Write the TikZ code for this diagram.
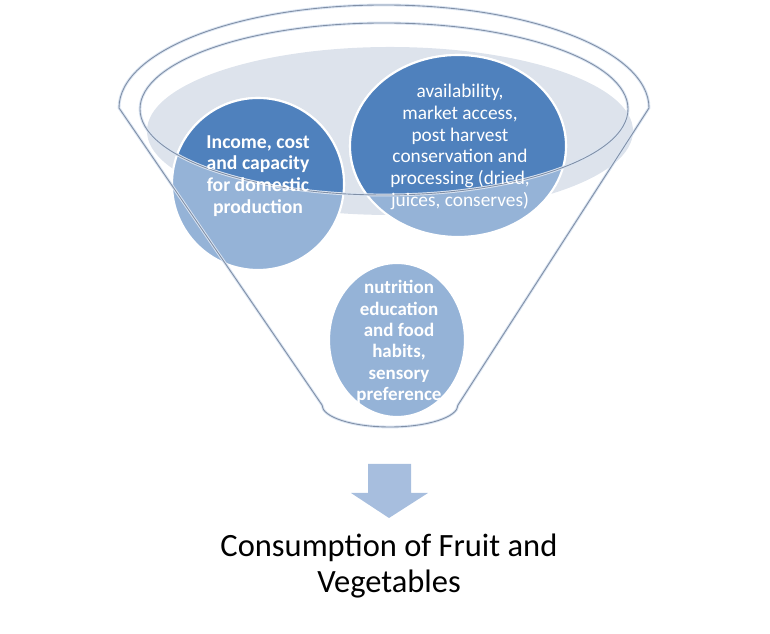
\documentclass[tikz,border=0pt]{standalone}
\usepackage{fontspec}
\setmainfont{Carlito}
\usepackage{tikz}
\usetikzlibrary{positioning}
\definecolor{darkblue}{RGB}{79,129,189}
\definecolor{lightblue}{RGB}{149,179,215}
\definecolor{rimgrey}{RGB}{128,143,166}
\definecolor{rimglow}{RGB}{218,228,242}
\definecolor{liquid}{RGB}{221,227,236}
\definecolor{arrowblue}{RGB}{167,190,222}
\tikzstyle{bubble} = [fill=lightblue, draw=white, line width=1.2pt]
\tikzstyle{rim} = [draw=rimgrey, line width=0.5pt, preaction={draw=rimglow, line width=1.6pt}]
\tikzstyle{bubbletext} = [text=white, align=center, inner sep=0pt, font={\fontsize{11pt}{12.4pt}\selectfont}]
\tikzstyle{boldtext} = [bubbletext, font={\fontsize{11.2pt}{12.4pt}\selectfont\bfseries}]
\tikzset{
  font={\fontsize{11pt}{12}\selectfont}}

\begin{document}
\begin{tikzpicture}[x=0.02cm, y=0.02cm]
    \useasboundingbox (0,0) rectangle (770,634);

    \fill[liquid] (390,503) ellipse [x radius=243, y radius=84];

    \draw[bubble] (258,450) ellipse [x radius=86, y radius=86];
    \draw[bubble] (458,488) ellipse [x radius=108, y radius=91];
    \draw[bubble] (397,294) ellipse [x radius=68, y radius=77];
    % inside the rim the bubbles are darker
    \begin{scope}
        \clip (384,525) ellipse [x radius=244, y radius=86];
        \draw[bubble, fill=darkblue] (258,450) ellipse [x radius=86, y radius=86];
        \draw[bubble, fill=darkblue] (458,488) ellipse [x radius=108, y radius=91];
    \end{scope}

    \draw[rim] (119,526) arc [start angle=180, end angle=0, x radius=265, y radius=103]
        -- (458,229) arc [start angle=0, end angle=-180, x radius=68, y radius=22] -- cycle;
    \draw[rim] (384,525) ellipse [x radius=244, y radius=86];

    \node (income) [boldtext] at (258,458) {Income, cost\\and capacity\\for domestic\\production};
    \node (availability) [bubbletext] at (460,487) {availability,\\market access,\\post harvest\\conservation and\\processing (dried,\\juices, conserves)};
    \node (nutrition) [boldtext, font={\fontsize{10.8pt}{12.2pt}\selectfont\bfseries}] at (399,292) {nutrition\\education\\and food\\habits,\\sensory\\preference};

    \fill[arrowblue] (368,170) -- (411,170) -- (411,141) -- (428,141) -- (389,116) -- (351,141) -- (368,141) -- cycle;

    \node (consumption) [font={\fontsize{18.5pt}{21pt}\selectfont}, align=center] at (389,68) {Consumption of Fruit and\\Vegetables};
\end{tikzpicture}
\end{document}
